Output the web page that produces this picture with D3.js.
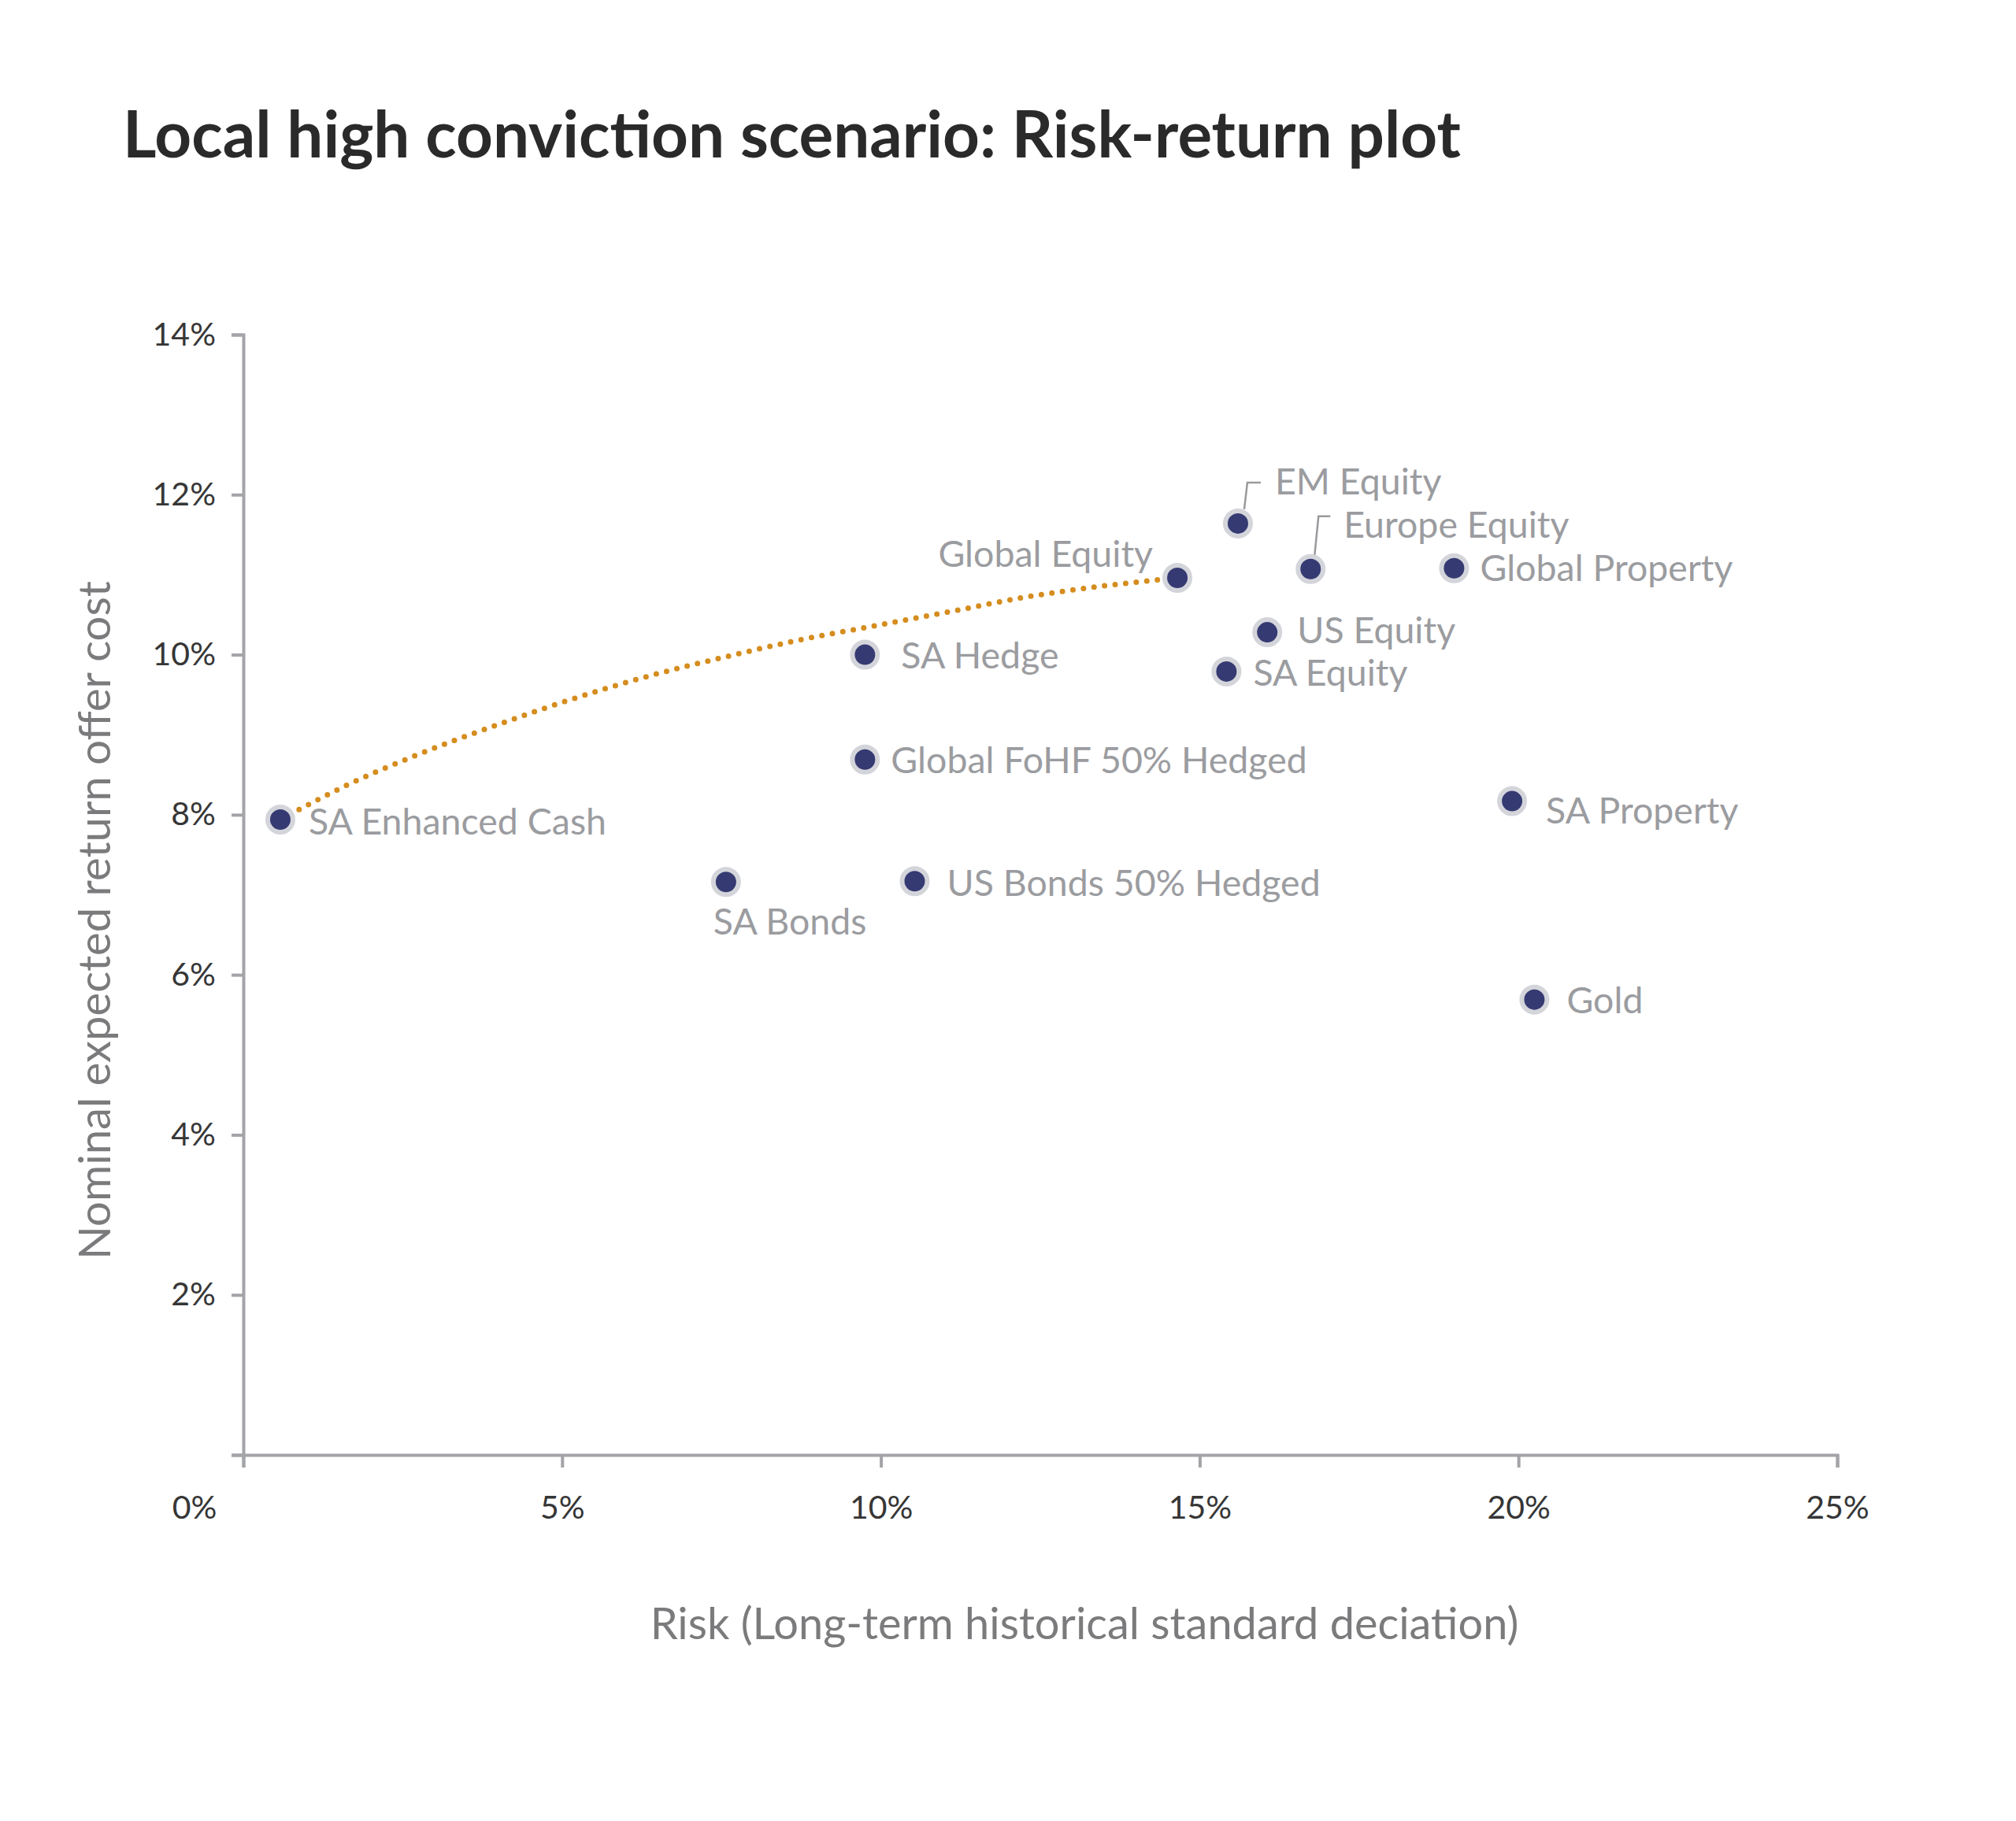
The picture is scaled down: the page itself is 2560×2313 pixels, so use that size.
<!DOCTYPE html>
<html>
<head>
<meta charset="utf-8">
<script src="https://cdn.jsdelivr.net/npm/d3@7"></script>
<style>
  body { margin: 0; background: #fff; }
  text { font-family: Lato, "Noto Sans", sans-serif; }
</style>
</head>
<body>
<div id="chart"></div>
<script>
// data
const assets = ["SA Enhanced Cash", "SA Bonds", "SA Hedge", "Global FoHF 50% Hedged",
  "US Bonds 50% Hedged", "Global Equity", "EM Equity", "SA Equity", "US Equity",
  "Europe Equity", "Global Property", "SA Property", "Gold"]
const riskValues = [0.58, 7.57, 9.75, 9.75, 10.53, 14.65, 15.60, 15.42, 16.06, 16.74, 18.99, 19.90, 20.25]
const returnValues = [7.94, 7.16, 10.00, 8.69, 7.17, 10.96, 11.64, 9.79, 10.28, 11.07, 11.08, 8.17, 5.69]

// efficient frontier (dotted line)
const frontierRisk = [0.58, 1.6, 2.7, 3.9, 5.1, 6.3, 7.6, 8.7, 9.9, 11.1, 12.2, 13.4, 14.65]
const frontierReturn = [7.94, 8.36, 8.74, 9.10, 9.43, 9.72, 9.98, 10.18, 10.36, 10.54, 10.71, 10.85, 10.96]

const xTicks = [0, 5, 10, 15, 20, 25]
const yTicks = [2, 4, 6, 8, 10, 12, 14]

const title = "Local high conviction scenario: Risk-return plot"
const xTitle = "Risk (Long-term historical standard deciation)"
const yTitle = "Nominal expected return offer cost"

// label placement relative to each point (pixels)
const labelPos = {
  "SA Enhanced Cash": { dx: 36, dy: 3 },
  "SA Bonds": { dx: -16, dy: 50 },
  "SA Hedge": { dx: 46, dy: 1 },
  "Global FoHF 50% Hedged": { dx: 33, dy: 1 },
  "US Bonds 50% Hedged": { dx: 41, dy: 3 },
  "Global Equity": { dx: -31, dy: -30, anchor: "end" },
  "EM Equity": { dx: 47, dy: -53, leader: [[8, -18], [12, -52], [29, -52]] },
  "SA Equity": { dx: 34, dy: 2 },
  "US Equity": { dx: 38, dy: -2 },
  "Europe Equity": { dx: 42, dy: -56, leader: [[5, -17], [10, -67], [25, -67]] },
  "Global Property": { dx: 33, dy: 0 },
  "SA Property": { dx: 43, dy: 12 },
  "Gold": { dx: 41, dy: 1 }
}

const W = 2560, H = 2313
const margin = { top: 425, right: 227, bottom: 465, left: 309 }

const svg = d3.select("#chart")
  .append("svg")
  .attr("width", W)
  .attr("height", H)

svg.append("rect").attr("width", W).attr("height", H).attr("fill", "#fff")

const x = d3.scaleLinear().domain([0, 25]).range([margin.left, W - margin.right])
const y = d3.scaleLinear().domain([0, 14]).range([H - margin.bottom, margin.top])

// scale a font so that a sample string gets a given width
function fitFont(sel, size, target) {
  sel.attr("font-size", size)
  const w = sel.node().getComputedTextLength()
  sel.attr("font-size", size * target / w)
  return size * target / w
}

// title
const t = svg.append("text")
  .attr("x", 156)
  .attr("y", 200)
  .attr("fill", "#2a2a2a")
  .attr("font-weight", 700)
  .text(title)
fitFont(t, 72, 1699)

const axisColor = "#a3a4a8"

// y axis
const gy = svg.append("g")
  .attr("transform", `translate(${x(0)},0)`)
  .call(d3.axisLeft(y).tickValues([0].concat(yTicks)).tickSize(15).tickPadding(20)
    .tickFormat(d => d === 0 ? "" : d + "%"))
gy.select(".domain").attr("stroke", axisColor).attr("stroke-width", 4)
gy.selectAll(".tick line").attr("stroke", axisColor).attr("stroke-width", 4)
gy.selectAll(".tick text").attr("fill", "#363636").attr("font-size", 41)

// x axis
const gx = svg.append("g")
  .attr("transform", `translate(0,${y(0)})`)
  .call(d3.axisBottom(x).tickValues(xTicks).tickSize(16).tickPadding(36)
    .tickFormat(d => d + "%"))
gx.select(".domain").attr("stroke", axisColor).attr("stroke-width", 4)
gx.selectAll(".tick line").attr("stroke", axisColor).attr("stroke-width", 4)
gx.selectAll(".tick text").attr("fill", "#363636").attr("font-size", 41)
gx.selectAll(".tick text").filter(d => d === 0)
  .attr("text-anchor", "end").attr("x", -34)

// axis titles
const xt = svg.append("text")
  .attr("x", 1377)
  .attr("y", 2082)
  .attr("text-anchor", "middle")
  .attr("fill", "#7b7b7d")
  .text(xTitle)
fitFont(xt, 50, 1103)

const yt = svg.append("text")
  .attr("transform", `translate(140,1169) rotate(-90)`)
  .attr("text-anchor", "middle")
  .attr("fill", "#7b7b7d")
  .text(yTitle)
fitFont(yt, 50, 862)

// frontier
const frontier = frontierRisk.map((r, i) => [r, frontierReturn[i]])
svg.append("path")
  .datum(frontier)
  .attr("fill", "none")
  .attr("stroke", "#d58d1f")
  .attr("stroke-width", 7)
  .attr("stroke-linecap", "round")
  .attr("stroke-dasharray", "0 13.5")
  .attr("d", d3.line().x(d => x(d[0])).y(d => y(d[1])).curve(d3.curveMonotoneX))

const points = assets.map((name, i) => ({ name, risk: riskValues[i], ret: returnValues[i] }))

// leader lines
svg.append("g").selectAll("path")
  .data(points.filter(d => labelPos[d.name].leader))
  .join("path")
  .attr("fill", "none")
  .attr("stroke", "#9a9a9e")
  .attr("stroke-width", 2.5)
  .attr("d", d => d3.line()(labelPos[d.name].leader.map(p => [x(d.risk) + p[0], y(d.ret) + p[1]])))

// points
svg.append("g").selectAll("circle")
  .data(points)
  .join("circle")
  .attr("cx", d => x(d.risk))
  .attr("cy", d => y(d.ret))
  .attr("r", 16)
  .attr("fill", "#363a72")
  .attr("stroke", "#d4d5db")
  .attr("stroke-width", 6)

// labels: size fitted on a few long names from the reference
const probe = svg.append("text").text("SA Enhanced CashGlobal FoHF 50% HedgedUS Bonds 50% Hedged")
const labelSize = fitFont(probe, 40, 1380)
probe.remove()

svg.append("g").selectAll("text")
  .data(points)
  .join("text")
  .attr("x", d => x(d.risk) + labelPos[d.name].dx)
  .attr("y", d => y(d.ret) + labelPos[d.name].dy)
  .attr("dy", "0.35em")
  .attr("text-anchor", d => labelPos[d.name].anchor || "start")
  .attr("font-size", labelSize)
  .attr("fill", "#9b9ca0")
  .text(d => d.name)
</script>
</body>
</html>
